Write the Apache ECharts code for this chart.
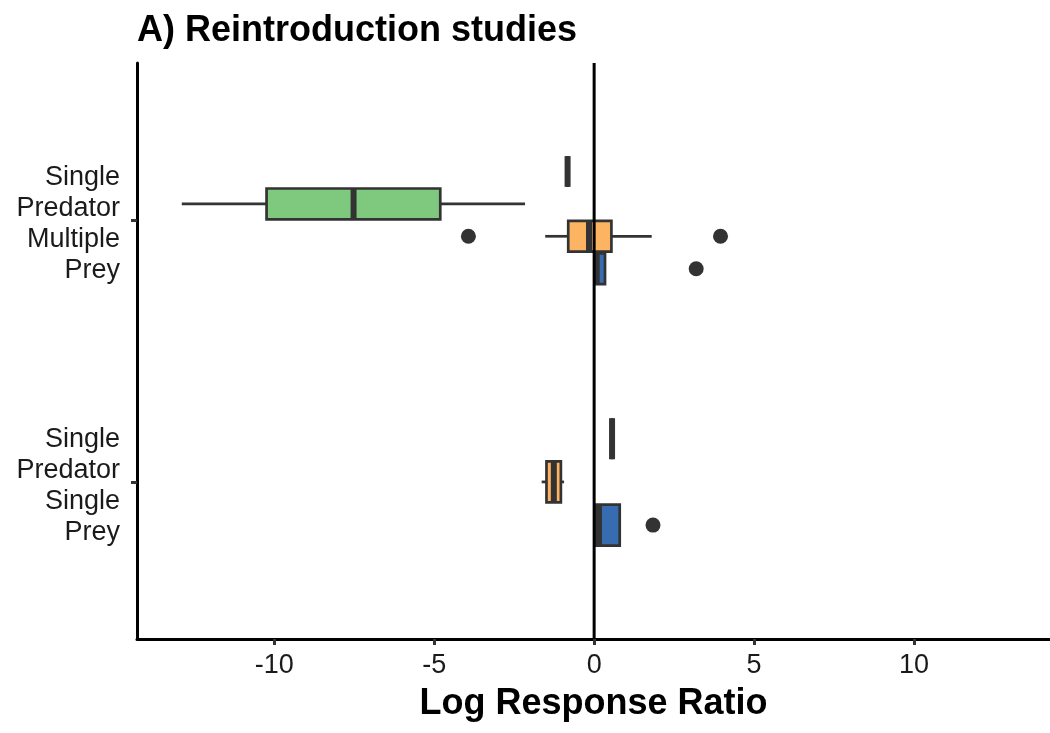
<!DOCTYPE html>
<html><head><meta charset="utf-8">
<script src="https://cdn.jsdelivr.net/npm/echarts@6/dist/echarts.min.js"></script>
<style>html,body{margin:0;padding:0;background:#fff}#c{width:1050px;height:733px}</style>
</head><body><div id="c"></div>
<script>
// ---- data ----
const categories = ["Single\nPredator\nSingle\nPrey", "Single\nPredator\nMultiple\nPrey"];
const groupNames = ["Group 1", "Group 2", "Group 3", "Group 4"];
const groupColors = ["#BEAED4", "#7FC97F", "#FDB462", "#386CB0"];
const boxCategory = [1, 1, 1, 1, 0, 0, 0];
const boxGroup    = [0, 1, 2, 3, 0, 2, 3];
const whiskerLow  = [-0.83, -12.89, -1.53, 0.06, 0.56, -1.64, 0.07];
const quartile1   = [-0.83, -10.24, -0.81, 0.06, 0.56, -1.49, 0.07];
const medians     = [-0.83,  -7.52, -0.16, 0.08, 0.56, -1.26, 0.15];
const quartile3   = [-0.83,  -4.81,  0.54, 0.34, 0.56, -1.04, 0.80];
const whiskerHigh = [-0.83,  -2.16,  1.80, 0.34, 0.56, -0.94, 0.80];
const outlierCategory = [1, 1, 1, 0];
const outlierGroup    = [2, 2, 3, 3];
const outlierValue    = [-3.93, 3.95, 3.19, 1.84];
const xTicks = [-10, -5, 0, 5, 10];
const zeroLine = 0;

// ---- layout helpers ----
const dodgeWidth = 0.495, boxFrac = 0.95;
function slotInfo(cat, group) {
  const present = [];
  boxCategory.forEach((c, i) => { if (c === cat) present.push(boxGroup[i]); });
  present.sort((a, b) => a - b);
  const n = present.length, idx = present.indexOf(group);
  const slot = dodgeWidth / n;
  return { y: (cat + 1) + dodgeWidth / 2 - slot * (idx + 0.5), h: slot * boxFrac };
}

const boxData = boxCategory.map((c, i) => {
  const s = slotInfo(c, boxGroup[i]);
  return [s.y, whiskerLow[i], quartile1[i], medians[i], quartile3[i], whiskerHigh[i], s.h, boxGroup[i]];
});
const outlierData = outlierValue.map((v, i) => [v, slotInfo(outlierCategory[i], outlierGroup[i]).y]);

const FONT = "'Liberation Sans', Arial, sans-serif";
const edge = '#333333';

const chart = echarts.init(document.getElementById('c'), null, { renderer: 'canvas' });
chart.setOption({
  animation: false,
  backgroundColor: '#ffffff',
  title: {
    text: 'A) Reintroduction studies', left: 132, top: 8,
    textStyle: { fontFamily: FONT, fontSize: 36, fontWeight: 'bold', color: '#000', lineHeight: 36 }
  },
  grid: { left: 137, right: 0, top: 63, bottom: 94, containLabel: false },
  xAxis: {
    type: 'value', min: -14.29, max: 14.25,
    name: 'Log Response Ratio', nameLocation: 'middle', nameGap: 47,
    nameTextStyle: { fontFamily: FONT, fontSize: 36, fontWeight: 'bold', color: '#000', lineHeight: 36 },
    axisLine: { show: true, onZero: false, lineStyle: { color: '#000', width: 3 } },
    axisTick: { show: true, length: 6, lineStyle: { color: edge, width: 3 }, customValues: xTicks },
    axisLabel: { fontFamily: FONT, fontSize: 27, color: '#1a1a1a', margin: 13, customValues: xTicks, lineHeight: 27 },
    splitLine: { show: false }
  },
  yAxis: {
    type: 'value', min: 0.4, max: 2.6,
    axisLine: { show: true, onZero: false, lineStyle: { color: '#000', width: 3 } },
    axisTick: { show: true, length: 6, lineStyle: { color: edge, width: 3 }, customValues: [1, 2] },
    axisLabel: {
      fontFamily: FONT, fontSize: 27, color: '#1a1a1a', margin: 17, align: 'right',
      customValues: [1, 2],
      formatter: v => {
        const lab = categories[Math.round(v) - 1];
        if (!lab) return '';
        return '{g|}\n' + lab.split('\n').map(s => '{t|' + s + '}').join('\n');
      },
      rich: {
        g: { height: 8, lineHeight: 8, fontSize: 8 },
        t: { fontFamily: FONT, fontSize: 27, lineHeight: 31, color: '#1a1a1a', align: 'right' }
      }
    },
    splitLine: { show: false }
  },
  series: [
    {
      type: 'custom', name: 'boxes', z: 2,
      data: boxData,
      encode: { x: [1, 2, 3, 4, 5], y: 0 },
      renderItem: function (params, api) {
        const y = api.value(0);
        const lo = api.coord([api.value(1), y]);
        const q1 = api.coord([api.value(2), y]);
        const md = api.coord([api.value(3), y]);
        const q3 = api.coord([api.value(4), y]);
        const hi = api.coord([api.value(5), y]);
        const hh = api.size([0, api.value(6)])[1] / 2;
        const cy = q1[1];
        const color = groupColors[api.value(7)];
        return {
          type: 'group',
          children: [
            { type: 'line', shape: { x1: lo[0], y1: cy, x2: q1[0], y2: cy }, style: { stroke: edge, lineWidth: 2.7 } },
            { type: 'line', shape: { x1: q3[0], y1: cy, x2: hi[0], y2: cy }, style: { stroke: edge, lineWidth: 2.7 } },
            { type: 'rect', shape: { x: q1[0], y: cy - hh, width: q3[0] - q1[0], height: 2 * hh },
              style: { fill: color, stroke: edge, lineWidth: 2.7 } },
            { type: 'line', shape: { x1: md[0], y1: cy - hh, x2: md[0], y2: cy + hh }, style: { stroke: edge, lineWidth: 6, lineCap: 'butt' } }
          ]
        };
      }
    },
    {
      type: 'scatter', name: 'outliers', z: 3,
      data: outlierData, symbol: 'circle', symbolSize: 15,
      itemStyle: { color: edge, opacity: 1 }
    },
    {
      type: 'line', name: 'zero', z: 5, symbol: 'none',
      data: [[zeroLine, 0.4], [zeroLine, 2.6]],
      lineStyle: { color: '#000', width: 3 }
    }
  ]
});
</script>
</body></html>
